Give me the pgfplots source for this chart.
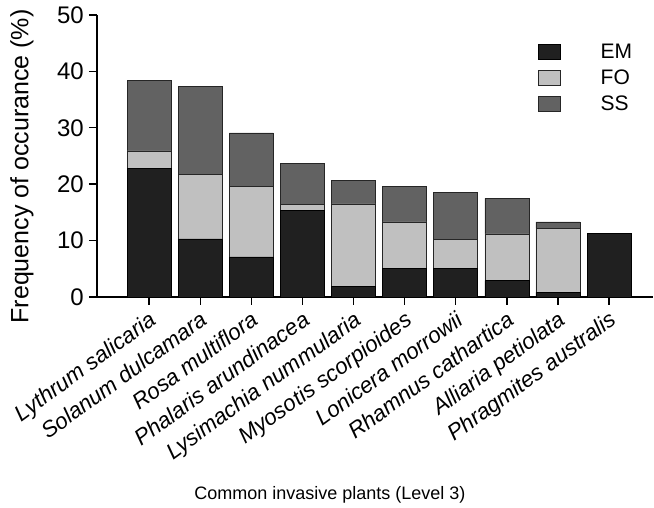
\documentclass[border=0pt]{standalone}
\usepackage{pgfplots}
\pgfplotsset{compat=1.18}
\usepackage{fontspec}
\setmainfont{Liberation Sans}
\definecolor{emc}{HTML}{202020}
\definecolor{foc}{HTML}{C0C0C0}
\definecolor{ssc}{HTML}{626262}
\begin{document}
\begin{tikzpicture}
\begin{axis}[
  scale only axis,
  width=556pt, height=282pt,
  ybar stacked,
  bar width=44pt,
  xmin=-1.02, xmax=9.86,
  ymin=0, ymax=50,
  ytick={0,10,20,30,40,50},
  xtick={0,...,9},
  xticklabels={Lythrum salicaria,Solanum dulcamara,Rosa multiflora,Phalaris arundinacea,Lysimachia nummularia,Myosotis scorpioides,Lonicera morrowii,Rhamnus cathartica,Alliaria petiolata,Phragmites australis},
  axis x line=bottom, axis y line=left,
  axis line style={-, line width=1.4pt},
  tick align=outside,
  major tick length=8pt,
  tick style={line width=1.4pt, black},
  /pgf/number format/assume math mode=true,
  yticklabel style={font=\fontsize{24}{28}\selectfont, inner sep=5pt},
  xticklabel style={font=\fontsize{22.3}{25}\selectfont\itshape, rotate=36, anchor=north east, inner sep=3.5pt},
  xlabel={Common invasive plants (Level 3)},
  ylabel={Frequency of occurance (\%)},
  xlabel style={font=\fontsize{18}{21}\selectfont, at={(rel axis cs:0.419,0)}, anchor=base, yshift=-202pt},
  ylabel style={font=\fontsize{25}{28}\selectfont, at={(rel axis cs:0,0.463)}, anchor=center, yshift=75pt},
  legend style={draw=none, fill=none, at={(rel axis cs:0.793,0.905)}, anchor=north west, inner sep=0pt, row sep=6pt, font=\fontsize{21}{24}\selectfont, cells={anchor=west}, /tikz/every odd column/.append style={column sep=38pt}},
  legend image code/.code={\draw[#1] (0pt,-7.5pt) rectangle (22pt,7.5pt);},
  clip=false,
]
\addplot[fill=emc, draw=black, line width=0.6pt] coordinates {(0,22.8) (1,10.3) (2,7.1) (3,15.4) (4,1.9) (5,5.0) (6,5.0) (7,2.9) (8,0.8) (9,11.3)};
\addplot[fill=foc, draw=black!85, line width=0.6pt] coordinates {(0,3.1) (1,11.4) (2,12.5) (3,1.0) (4,14.6) (5,8.3) (6,5.2) (7,8.3) (8,11.4)};
\addplot[fill=ssc, draw=black!85, line width=0.6pt] coordinates {(0,12.5) (1,15.7) (2,9.5) (3,7.3) (4,4.2) (5,6.3) (6,8.4) (7,6.3) (8,1.1)};
\legend{EM,FO,SS}
\end{axis}
\path ([xshift=-97pt,yshift=-211pt]current axis.south west) rectangle ([xshift=1pt,yshift=15pt]current axis.north east);
\end{tikzpicture}
\end{document}
